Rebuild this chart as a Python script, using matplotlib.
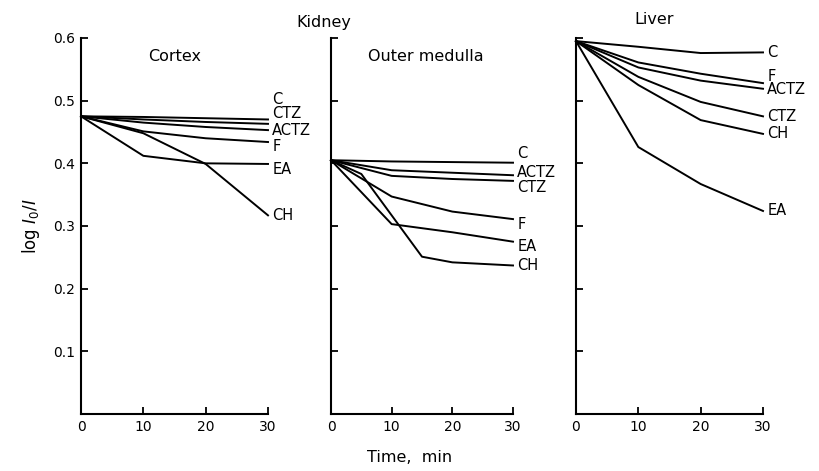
import matplotlib
matplotlib.use("Agg")
import matplotlib.pyplot as plt

# time points (min)
t = [0, 10, 20, 30]
t_ch_med = [0, 5, 15, 20, 30]

# Kidney cortex
cortex_C = [0.475, 0.474, 0.472, 0.470]
cortex_CTZ = [0.475, 0.470, 0.466, 0.463]
cortex_ACTZ = [0.475, 0.465, 0.458, 0.453]
cortex_F = [0.475, 0.451, 0.440, 0.434]
cortex_EA = [0.475, 0.412, 0.400, 0.399]
cortex_CH = [0.475, 0.448, 0.399, 0.317]

# Kidney outer medulla
med_C = [0.405, 0.403, 0.402, 0.401]
med_ACTZ = [0.405, 0.389, 0.385, 0.381]
med_CTZ = [0.405, 0.380, 0.375, 0.372]
med_F = [0.405, 0.347, 0.323, 0.311]
med_EA = [0.405, 0.303, 0.290, 0.275]
med_CH = [0.405, 0.383, 0.251, 0.242, 0.237]

# Liver
liver_C = [0.595, 0.586, 0.576, 0.577]
liver_F = [0.595, 0.561, 0.543, 0.528]
liver_ACTZ = [0.595, 0.553, 0.532, 0.519]
liver_CTZ = [0.595, 0.538, 0.498, 0.475]
liver_CH = [0.595, 0.525, 0.469, 0.447]
liver_EA = [0.595, 0.426, 0.367, 0.324]

yticks = [0.1, 0.2, 0.3, 0.4, 0.5, 0.6]
xticks = [0, 10, 20, 30]

# (label, x, y, label nudge in px)
panels = [
    ("Cortex", [
        ("C", t, cortex_C, 20),
        ("CTZ", t, cortex_CTZ, 10),
        ("ACTZ", t, cortex_ACTZ, 0),
        ("F", t, cortex_F, -4),
        ("EA", t, cortex_EA, -6),
        ("CH", t, cortex_CH, 0),
    ]),
    ("Outer medulla", [
        ("C", t, med_C, 9),
        ("ACTZ", t, med_ACTZ, 3),
        ("CTZ", t, med_CTZ, -7),
        ("F", t, med_F, -5),
        ("EA", t, med_EA, -5),
        ("CH", t_ch_med, med_CH, 0),
    ]),
    ("", [
        ("C", t, liver_C, 0),
        ("F", t, liver_F, 7),
        ("ACTZ", t, liver_ACTZ, -1),
        ("CTZ", t, liver_CTZ, 0),
        ("CH", t, liver_CH, 0),
        ("EA", t, liver_EA, 0),
    ]),
]

fig = plt.figure(figsize=(8.19, 4.71), dpi=100)
lefts = [81, 331, 576]
widths = [187, 182, 187]
bottom = (471 - 414) / 471
height = 376 / 471

for i, (title, series) in enumerate(panels):
    ax = fig.add_axes([lefts[i] / 819, bottom, widths[i] / 819, height])
    for name, x, y, nudge in series:
        ax.plot(x, y, color="black", lw=1.4, clip_on=False)
        ax.annotate(name, (x[-1], y[-1]), xytext=(3, nudge * 0.72),
                    textcoords="offset points", ha="left", va="center",
                    fontsize=10.5)
    ax.set_xlim(0, 30)
    ax.set_ylim(0, 0.6)
    ax.spines["top"].set_visible(False)
    ax.spines["right"].set_visible(False)
    ax.spines["left"].set_linewidth(1.5)
    ax.spines["bottom"].set_linewidth(1.5)
    ax.set_xticks(xticks)
    ax.set_yticks(yticks)
    ax.tick_params(direction="in", length=5, width=1.3, labelsize=10, pad=4)
    if i > 0:
        ax.set_yticklabels([])
    else:
        ax.set_yticklabels(["0.1", "0.2", "0.3", "0.4", "0.5", "0.6"])
        ax.set_ylabel(r"log $\mathit{I}_0/\mathit{I}$", fontsize=12, labelpad=8)
    if title:
        ax.text(0.5 if i == 0 else 0.52, 0.95, title, transform=ax.transAxes,
                ha="center", va="center", fontsize=11.5)

fig.text(324 / 819, 1 - 22 / 471, "Kidney", ha="center", va="center", fontsize=11.5)
fig.text(654 / 819, 1 - 20 / 471, "Liver", ha="center", va="center", fontsize=11.5)
fig.text(410 / 819, 1 - 458 / 471, "Time,  min", ha="center", va="center", fontsize=11.5)

fig.savefig("out.png", dpi=100)
